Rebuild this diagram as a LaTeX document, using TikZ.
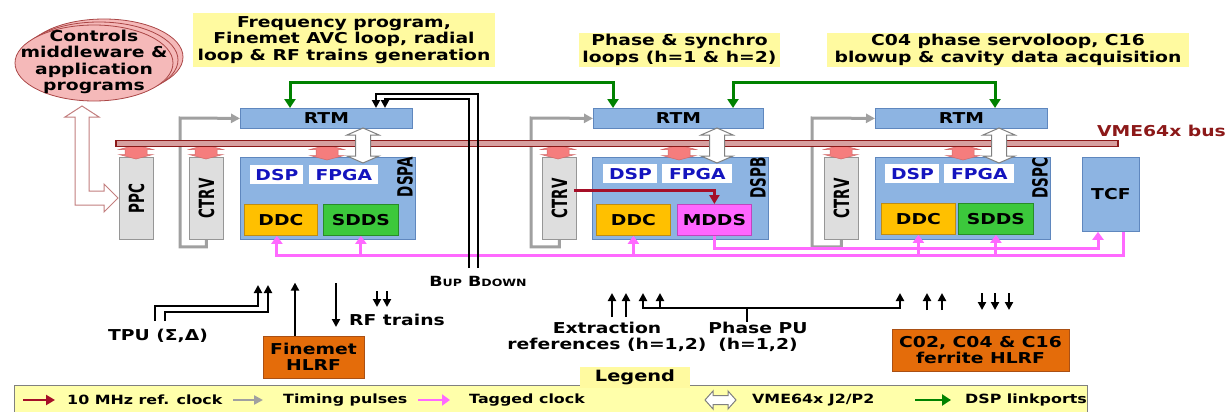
\documentclass[tikz,border=0pt]{standalone}
\usepackage{fontspec}
\setmainfont{DejaVu Sans}[FakeStretch=1.25]
\newfontfamily\rotfont{DejaVu Sans}
\usetikzlibrary{arrows.meta,shapes.geometric}
\definecolor{cardblue}{RGB}{141,180,226}
\definecolor{cardblueb}{RGB}{95,135,190}
\definecolor{cardgray}{RGB}{222,222,222}
\definecolor{cardgrayb}{RGB}{150,150,150}
\definecolor{ddcor}{RGB}{255,192,0}
\definecolor{ddcorb}{RGB}{190,140,20}
\definecolor{sddsgr}{RGB}{60,200,60}
\definecolor{sddsgrb}{RGB}{40,140,40}
\definecolor{mddsmg}{RGB}{255,102,255}
\definecolor{mddsmgb}{RGB}{190,70,190}
\definecolor{hlrf}{RGB}{228,108,10}
\definecolor{hlrfb}{RGB}{170,80,20}
\definecolor{ylab}{RGB}{255,250,160}
\definecolor{ylegend}{RGB}{255,255,170}
\definecolor{ellpink}{RGB}{245,185,185}
\definecolor{ellred}{RGB}{170,70,70}
\definecolor{busred}{RGB}{140,25,25}
\definecolor{busfill}{RGB}{215,160,160}
\definecolor{vmepink}{RGB}{245,125,125}
\definecolor{lnkgreen}{RGB}{0,130,0}
\definecolor{timgray}{RGB}{160,160,160}
\definecolor{tagpink}{RGB}{255,105,255}
\definecolor{refred}{RGB}{165,15,40}
\definecolor{dspblue}{RGB}{20,20,190}
\newcommand\vdarr[7]{%
  \path[#7] (#1,#2) -- ({#1+#4/2},{#2+#6}) -- ({#1+#5/2},{#2+#6}) -- ({#1+#5/2},{#3-#6})
   -- ({#1+#4/2},{#3-#6}) -- (#1,#3) -- ({#1-#4/2},{#3-#6}) -- ({#1-#5/2},{#3-#6})
   -- ({#1-#5/2},{#2+#6}) -- ({#1-#4/2},{#2+#6}) -- cycle;}
\newcommand\hdarr[7]{%
  \path[#7] (#1,#3) -- ({#1+#6},{#3-#4/2}) -- ({#1+#6},{#3-#5/2}) -- ({#2-#6},{#3-#5/2})
   -- ({#2-#6},{#3-#4/2}) -- (#2,#3) -- ({#2-#6},{#3+#4/2}) -- ({#2-#6},{#3+#5/2})
   -- ({#1+#6},{#3+#5/2}) -- ({#1+#6},{#3+#4/2}) -- cycle;}
\tikzset{
  gtip/.tip={Triangle[length=9pt,width=11pt]},
  ttip/.tip={Triangle[length=9pt,width=9pt]},
  ptip/.tip={Triangle[length=8pt,width=11pt]},
  rtip/.tip={Triangle[length=9pt,width=10pt]},
  btip/.tip={Triangle[length=8pt,width=8pt]},
  boxbase/.style={rectangle, inner sep=0pt, anchor=north west, line width=0.8pt},
  bluecard/.style={boxbase, fill=cardblue, draw=cardblueb},
  graycard/.style={boxbase, fill=cardgray, draw=cardgrayb},
  ddcbox/.style={boxbase, fill=ddcor, draw=ddcorb},
  sddsbox/.style={boxbase, fill=sddsgr, draw=sddsgrb},
  mddsbox/.style={boxbase, fill=mddsmg, draw=mddsmgb},
  whitebox/.style={boxbase, fill=white, text=dspblue},
  hlrfbox/.style={rectangle, inner sep=0pt, fill=hlrf, draw=hlrfb, line width=0.8pt, align=center},
  ylabel/.style={rectangle, inner sep=0pt, fill=ylab, align=center},
  ellbox/.style={ellipse, fill=ellpink, draw=ellred, line width=0.8pt, minimum width=158pt, minimum height=76pt, inner sep=0pt},
  rotlabel/.style={rotate=90, inner sep=0pt},
  link/.style={draw=lnkgreen, line width=3pt},
  timing/.style={draw=timgray, line width=3pt},
  tagged/.style={draw=tagpink, line width=3pt},
  refclk/.style={draw=refred, line width=2.5pt},
  sig/.style={draw=black, line width=2pt},
  vmeconn/.style={fill=vmepink, draw=vmepink!85!black, line width=0.5pt},
  jconn/.style={fill=white, draw=gray, line width=1pt},
}
\newcommand\rtxt[1]{\scalebox{1}[1.55]{\fontsize{13.5}{14}\rotfont\bfseries #1}}
\begin{document}
\begin{tikzpicture}[x=1pt,y=-1pt, font=\fontsize{15}{16.5}\selectfont\bfseries]
\useasboundingbox (0,0) rectangle (1228,412);
\clip (0,0) rectangle (1228,412);
\fill[white] (0,0) rectangle (1228,412);

% controls ellipse stack
\node[ellbox] (ctlC) at (104,57) {};
\node[ellbox] (ctlB) at (99,60) {};
\node[ellbox] (ctlA) at (94,63) {};
\node[align=center, inner sep=0pt] (ctltext) at (94,62) {Controls\\middleware \&\\application\\programs};

% hollow arrow ellipse <-> PPC
\path[fill=white, draw=ellred!70, line width=1pt] (82,106) -- (99,117) -- (89,117) -- (89,191) -- (104,191)
  -- (104,184) -- (118,198) -- (104,212) -- (104,205) -- (75,205) -- (75,117) -- (65,117) -- cycle;

% top labels
\node[ylabel, minimum width=302pt, minimum height=54pt] (lab1) at (344,40) {Frequency program,\\Finemet AVC loop, radial\\loop \& RF trains generation};
\node[ylabel, minimum width=201pt, minimum height=34pt] (lab2) at (679.5,50) {Phase \& synchro\\loops (h=1 \& h=2)};
\node[ylabel, minimum width=362pt, minimum height=34pt] (lab3) at (1008,50) {C04 phase servoloop, C16\\blowup \& cavity data acquisition};

% RTM cards
\node[bluecard, minimum width=172pt, minimum height=20pt] (rtmA) at (240,108) {RTM};
\node[bluecard, minimum width=170pt, minimum height=20pt] (rtmB) at (593,108) {RTM};
\node[bluecard, minimum width=172pt, minimum height=20pt] (rtmC) at (875,108) {RTM};

% timing receivers
\node[graycard, minimum width=34pt, minimum height=82pt] (ppc) at (119,157) {};
\node[graycard, minimum width=34pt, minimum height=82pt] (ctrvA) at (189,157) {};
\node[graycard, minimum width=34pt, minimum height=82pt] (ctrvB) at (542,157) {};
\node[graycard, minimum width=34pt, minimum height=82pt] (ctrvC) at (824,157) {};

% timing pulses (gray)
\draw[timing, -ttip] (ctrvA.south) -- ++(0,7) -| (180,118) -- (rtmA.west);
\draw[timing, -ttip] (ctrvB.south) -- ++(0,7) -| (531,118) -- (rtmB.west);
\draw[timing, -ttip] (ctrvC.south) -- ++(0,7) -| (812,118) -- (rtmC.west);
\node[graycard, minimum width=34pt, minimum height=82pt] at (189,157) {};
\node[graycard, minimum width=34pt, minimum height=82pt] at (542,157) {};
\node[graycard, minimum width=34pt, minimum height=82pt] at (824,157) {};
\node[rotlabel] (ppcl) at (ppc.center) {\rtxt{PPC}};
\node[rotlabel] (ctrvAl) at (ctrvA.center) {\rtxt{CTRV}};
\node[rotlabel] (ctrvBl) at (ctrvB.center) {\rtxt{CTRV}};
\node[rotlabel] (ctrvCl) at (ctrvC.center) {\rtxt{CTRV}};

% DSP cards
\node[bluecard, minimum width=175pt, minimum height=82pt] (dspA) at (240,157) {};
\node[bluecard, minimum width=176pt, minimum height=82pt] (dspB) at (592,157) {};
\node[bluecard, minimum width=175pt, minimum height=82pt] (dspC) at (875,157) {};
\node[bluecard, minimum width=57pt, minimum height=74pt] (tcf) at (1082,157) {TCF};

\node[rotlabel] (dspAl) at (405,177) {\rtxt{DSPA}};
\node[rotlabel] (dspBl) at (758,178) {\rtxt{DSPB}};
\node[rotlabel] (dspCl) at (1040,178) {\rtxt{DSPC}};

\node[whitebox, minimum width=53pt, minimum height=19pt] (dspAa) at (250,165) {DSP};
\node[whitebox, minimum width=69pt, minimum height=19pt] (fpgaA) at (309,165) {FPGA};
\node[ddcbox, minimum width=73pt, minimum height=31pt] (ddcA) at (244,204) {DDC};
\node[sddsbox, minimum width=75pt, minimum height=31pt] (sddsA) at (323,204) {SDDS};

\node[whitebox, minimum width=54pt, minimum height=19pt] (dspBa) at (603,164) {DSP};
\node[whitebox, minimum width=70pt, minimum height=19pt] (fpgaB) at (662,164) {FPGA};
\node[ddcbox, minimum width=74pt, minimum height=31pt] (ddcB) at (596,204) {DDC};
\node[mddsbox, minimum width=74pt, minimum height=31pt] (mdds) at (677,204) {MDDS};

\node[whitebox, minimum width=54pt, minimum height=19pt] (dspCa) at (885,164) {DSP};
\node[whitebox, minimum width=70pt, minimum height=19pt] (fpgaC) at (944,164) {FPGA};
\node[ddcbox, minimum width=74pt, minimum height=31pt] (ddcC) at (881,203) {DDC};
\node[sddsbox, minimum width=75pt, minimum height=31pt] (sddsC) at (958,203) {SDDS};

% VME connectors (pink)
\vdarr{136}{145}{159}{34}{22}{4.5}{vmeconn}
\vdarr{206}{145}{159}{34}{22}{4.5}{vmeconn}
\vdarr{327}{145}{160}{34}{22}{4.5}{vmeconn}
\vdarr{558}{145}{159}{34}{22}{4.5}{vmeconn}
\vdarr{679}{145}{160}{34}{22}{4.5}{vmeconn}
\vdarr{841}{145}{159}{34}{22}{4.5}{vmeconn}
\vdarr{963}{145}{160}{34}{22}{4.5}{vmeconn}

% VME bus
\node[boxbase, minimum width=1002pt, minimum height=6pt, draw=busred, fill=busfill, line width=1.8pt] (bus) at (115,139.5) {};
\node[anchor=east, inner sep=0pt, text=busred] (buslabel) at (1226,131) {VME64x bus};

% J2/P2 hollow connectors
\vdarr{363}{128}{163}{32}{15}{7}{jconn}
\vdarr{717}{128}{163}{32}{15}{7}{jconn}
\vdarr{999}{128}{163}{32}{15}{7}{jconn}

% 10 MHz reference clock
\draw[refclk, -rtip] ([shift={(-3,-8)}]ctrvB.east) -| (mdds.north);

% tagged clock
\draw[tagged, -ptip] (mdds.south) -- ++(0,13) -| ([xshift=16]tcf.south west);
\draw[tagged, -ptip] ([xshift=-16]tcf.south east) -- ++(0,24) -| ([xshift=-4]ddcA.south);
\draw[tagged, -ptip] (sddsA.south |- 0,255) -- (sddsA.south);
\draw[tagged, -ptip] (ddcB.south |- 0,255) -- (ddcB.south);
\draw[tagged, -ptip] (ddcC.south |- 0,255) -- (ddcC.south);
\draw[tagged, -ptip] (sddsC.south |- 0,255) -- (sddsC.south);

% DSP linkports
\draw[link, gtip-gtip] ([xshift=50]rtmA.north west) -- ++(0,-26) -| ([xshift=20]rtmB.north west);
\draw[link, gtip-gtip] ([xshift=140]rtmB.north west) -- ++(0,-26) -| ([xshift=120]rtmC.north west);

% B up / B down
\node[inner sep=0pt] (blabel) at (478,281) {\fontsize{14}{14}\selectfont B{\fontsize{10}{10}\selectfont UP} B{\fontsize{10}{10}\selectfont DOWN}};
\draw[sig, -btip] (478,268) -- (478,94) -- (376,94) -- (rtmA.north -| 376,0);
\draw[sig, -btip] (469,268) -- (469,99) -- (385,99) -- (rtmA.north -| 385,0);

% bottom signals
\node[inner sep=0pt] (tpu) at (158,336) {TPU (Σ,Δ)};
\draw[sig, -btip] (155,321) -- (155,306) -- (258,306) -- (258,285);
\draw[sig, -btip] (165,321) -- (165,312) -- (268,312) -- (268,285);

\node[hlrfbox, minimum width=101pt, minimum height=42pt] (hlrfA) at (313.5,357) {Finemet\\HLRF};
\draw[sig, -btip] ([xshift=-18.5]hlrfA.north) -- ++(0,-53);
\coordinate (rfdown) at (336,327);
\draw[sig, -btip] (336,283) -- (rfdown);
\draw[sig, -btip] (377,291) -- (377,307);
\draw[sig, -btip] (387,291) -- (387,307);
\node[anchor=west, inner sep=0pt] (rft) at (349,320) {RF trains};

\node[align=center, inner sep=0pt] (extr) at (607,337) {Extraction\\references (h=1,2)};
\draw[sig, -btip] (612,317) -- (612,293);
\draw[sig, -btip] (626,317) -- (626,293);

\node[align=center, inner sep=0pt] (ppu) at (758,337) {Phase PU\\(h=1,2)};
\draw[sig] ([xshift=-11]ppu.north) -- (747,308);
\draw[sig, btip-btip] (643,293) -- (643,308) -- (900,308) -- (900,293);
\draw[sig, -btip] (660,308) -- (660,293);

\node[hlrfbox, minimum width=177pt, minimum height=42pt] (hlrfC) at (980.5,350) {C02, C04 \& C16\\ferrite HLRF};
\draw[sig, -btip] (927,310) -- (927,293);
\draw[sig, -btip] (942,310) -- (942,293);
\draw[sig, -btip] (982,293) -- (982,310);
\draw[sig, -btip] (995,293) -- (995,310);
\draw[sig, -btip] (1009,293) -- (1009,310);

% legend
\node[boxbase, minimum width=1073pt, minimum height=40pt, fill=ylegend, draw=gray] (legbox) at (14,385) {};
\node[ylabel, minimum width=110pt, minimum height=21pt, font=\fontsize{15.5}{15.5}\selectfont\bfseries] (legtitle) at (635,377.5) {Legend};
\begin{scope}[font=\fontsize{12.7}{13}\selectfont\bfseries]
\coordinate (l1a) at (23,400); \coordinate (l1b) at (55,400);
\draw[refclk, -rtip] (l1a) -- (l1b);
\node[anchor=west, inner sep=0pt] (l1t) at (67,400) {10 MHz ref. clock};
\coordinate (l2a) at (233,400); \coordinate (l2b) at (263,400);
\draw[timing, line width=2.5pt, -ttip] (l2a) -- (l2b);
\node[anchor=west, inner sep=0pt] (l2t) at (283,400) {Timing pulses};
\coordinate (l3a) at (418,400); \coordinate (l3b) at (450,400);
\draw[tagged, line width=2.5pt, -ptip] (l3a) -- (l3b);
\node[anchor=west, inner sep=0pt] (l3t) at (469,400) {Tagged clock};
\hdarr{705}{736}{400}{18}{9}{8}{jconn}
\node[anchor=west, inner sep=0pt] (l4t) at (752,400) {VME64x J2/P2};
\coordinate (l5a) at (915,400); \coordinate (l5b) at (951,400);
\draw[link, line width=2.5pt, -gtip] (l5a) -- (l5b);
\node[anchor=west, inner sep=0pt] (l5t) at (965,400) {DSP linkports};
\end{scope}
\end{tikzpicture}
\end{document}
